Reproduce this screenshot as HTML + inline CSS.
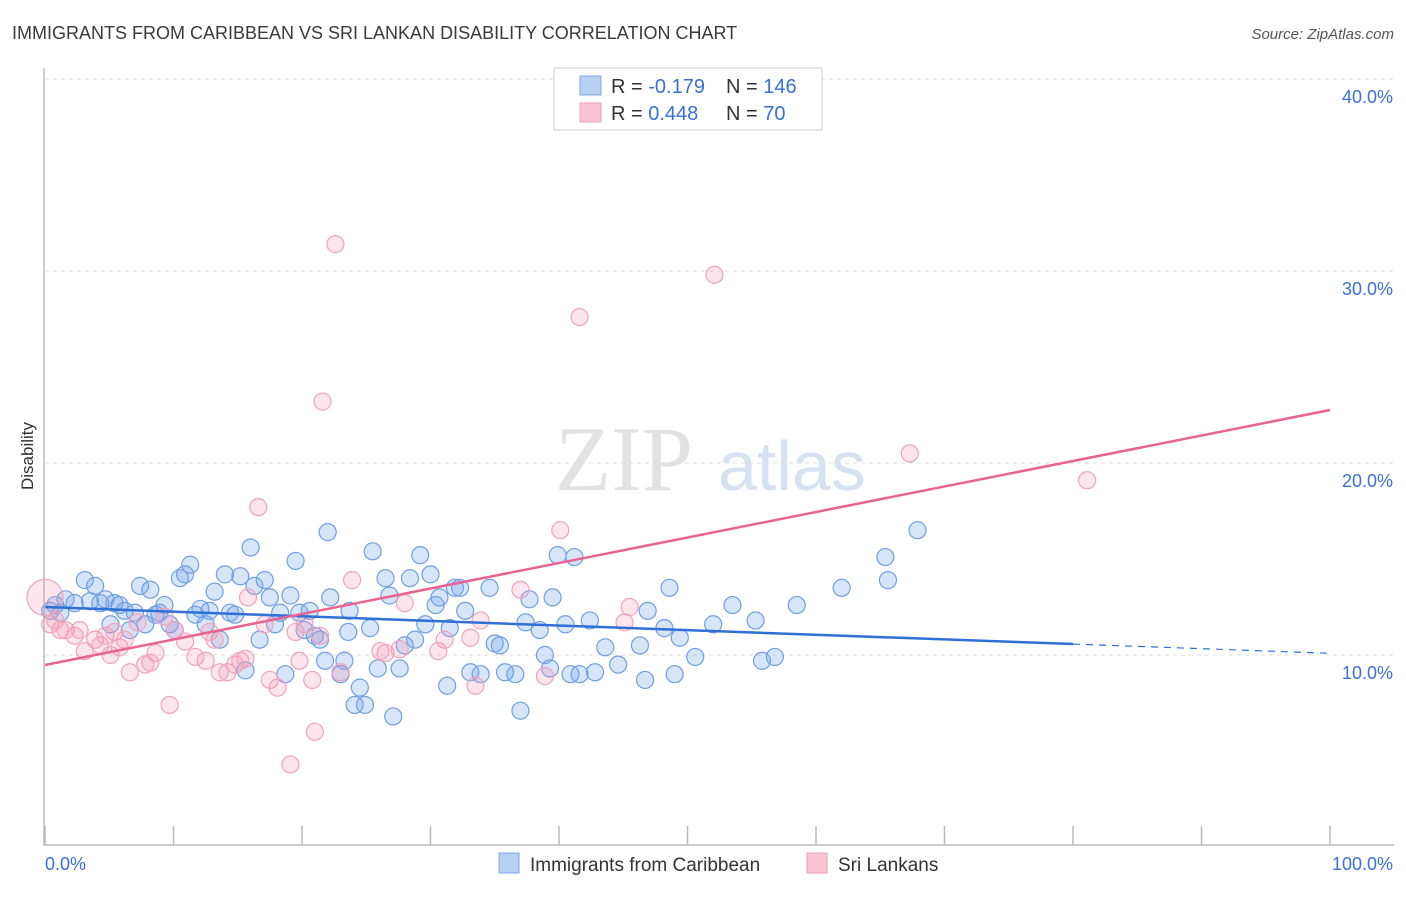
<!DOCTYPE html>
<html><head><meta charset="utf-8"><style>
html,body{margin:0;padding:0;background:#fff;}
body{width:1406px;height:892px;overflow:hidden;font-family:"Liberation Sans",sans-serif;}
</style></head><body>
<svg id="chart" width="1406" height="892" xmlns="http://www.w3.org/2000/svg" font-family="Liberation Sans, sans-serif">
<text x="12" y="39" font-size="18" fill="#3a3a3a">IMMIGRANTS FROM CARIBBEAN VS SRI LANKAN DISABILITY CORRELATION CHART</text>
<text x="1394" y="39" font-size="15" fill="#555" text-anchor="end" font-style="italic">Source: ZipAtlas.com</text>
<text x="555" y="490" font-size="92" fill="#e2e2e2" font-family="Liberation Serif, serif">ZIP</text>
<text x="718" y="490" font-size="70" fill="#d6e2f2">atlas</text>
<text transform="translate(33,456) rotate(-90)" font-size="17" fill="#333" text-anchor="middle">Disability</text>
<g id="grid"></g><g id="axes"></g><g id="pts"></g><g id="trends"></g>
<g>
<rect x="554" y="68" width="268" height="62" fill="#fff" stroke="#ccc"/>
<rect x="580" y="76" width="21" height="19" fill="#b8d1f3" stroke="#7fa8e6"/>
<rect x="580" y="103" width="21" height="19" fill="#f9c5d5" stroke="#ee9fb8"/>
<text x="611" y="93" font-size="20" fill="#333">R = <tspan fill="#3a6fd8">-0.179</tspan><tspan x="726">N = </tspan><tspan fill="#3a6fd8">146</tspan></text>
<text x="611" y="120" font-size="20" fill="#333">R = <tspan fill="#3a6fd8"> 0.448</tspan><tspan x="726">N = </tspan><tspan fill="#3a6fd8">  70</tspan></text>
</g>
<g>
<rect x="499" y="853" width="20" height="20" fill="#b8d1f3" stroke="#7fa8e6"/>
<text x="530" y="871" font-size="19" fill="#333">Immigrants from Caribbean</text>
<rect x="807" y="853" width="20" height="20" fill="#f9c5d5" stroke="#ee9fb8"/>
<text x="838" y="871" font-size="19" fill="#333">Sri Lankans</text>
</g>
</svg>
<script>
const xTicks=[0,10,20,30,40,50,60,70,80,90,100];
const yTicks=[10,20,30,40];
const blueX=[0.4,0.8,1.2,1.6,2.3,3.1,3.5,3.9,4.3,4.7,5.1,5.4,5.8,6.2,6.6,7.0,7.4,7.8,8.2,8.6,8.9,9.3,9.7,10.1,10.5,10.9,11.3,11.7,12.1,12.5,12.8,13.2,13.6,14.0,14.4,14.8,15.2,15.6,16.0,16.3,16.7,17.1,17.5,17.9,18.3,18.7,19.1,19.5,19.8,20.2,20.6,21.0,21.4,21.8,22.0,22.2,23.0,23.3,23.6,23.7,24.1,24.5,24.9,25.3,25.5,25.9,26.5,26.8,27.1,27.6,28.0,28.4,28.8,29.2,29.6,30.0,30.4,30.7,31.3,31.5,31.9,32.3,32.7,33.1,33.9,34.6,35.0,35.4,35.8,36.6,37.0,37.4,37.7,38.5,38.9,39.3,39.5,39.9,40.5,40.9,41.2,41.6,42.4,42.8,43.6,44.6,46.3,46.7,46.9,48.2,48.6,49.0,49.4,50.6,52.0,53.5,55.3,55.8,56.8,58.5,62.0,65.4,65.6,67.9];
const blueY=[12.3,12.6,12.2,12.9,12.7,13.9,12.8,13.6,12.7,12.9,11.6,12.7,12.6,12.3,11.3,12.2,13.6,11.6,13.4,12.1,12.2,12.6,11.6,11.3,14.0,14.2,14.7,12.1,12.4,11.6,12.3,13.3,10.8,14.2,12.2,12.1,14.1,9.2,15.6,13.6,10.8,13.9,13.0,11.6,12.2,9.0,13.1,14.9,12.2,11.3,12.3,11.0,10.8,9.7,16.4,13.0,9.0,9.7,11.2,12.3,7.4,8.3,7.4,11.4,15.4,9.3,14.0,13.1,6.8,9.3,10.5,14.0,10.8,15.2,11.6,14.2,12.6,13.0,8.4,11.4,13.5,13.5,12.3,9.1,9.0,13.5,10.6,10.5,9.1,9.0,7.1,11.7,12.9,11.3,10.0,9.3,13.0,15.2,11.6,9.0,15.1,9.0,11.8,9.1,10.4,9.5,10.5,8.7,12.3,11.4,13.5,9.0,10.9,9.9,11.6,12.6,11.8,9.7,9.9,12.6,13.5,15.1,13.9,16.5];
const pinkX=[0.4,0.8,1.2,1.6,2.3,2.7,3.1,3.9,4.3,4.7,5.1,5.4,5.8,6.2,6.6,7.2,7.8,8.2,8.6,9.3,9.7,10.1,10.9,11.7,12.5,12.8,13.2,13.6,14.2,14.8,15.2,15.6,15.8,16.6,17.1,17.5,18.1,19.1,19.5,19.8,20.2,20.8,21.0,21.4,21.6,22.6,23.0,23.9,26.1,26.5,27.6,28.0,30.6,31.1,33.1,33.5,33.9,37.0,38.9,40.1,41.6,45.1,45.5,52.1,67.3,81.1];
const pinkY=[11.6,11.8,11.3,11.3,11.0,11.3,10.2,10.8,10.5,11.0,10.0,11.2,10.4,10.8,9.1,11.7,9.5,9.6,10.1,12.0,7.4,11.3,10.7,9.9,9.7,11.2,10.8,9.1,9.1,9.5,9.7,9.8,13.0,17.7,11.6,8.7,8.3,4.3,11.2,9.7,11.6,8.7,6.0,11.0,23.2,31.4,9.1,13.9,10.2,10.1,10.3,12.7,10.2,10.8,10.9,8.4,11.8,13.4,8.9,16.5,27.6,11.7,12.5,29.8,20.5,19.1];
const bigPinkX=[0.0], bigPinkY=[13.0];
const blueTrend=[12.5,10.57], blueTrendEnd=[80,100], pinkTrend=[9.48,22.76];
const X=v=>45+v*12.85, Y=v=>847-v*19.2;
const NS='http://www.w3.org/2000/svg';
function mk(tag,parent,attrs){const e=document.createElementNS(NS,tag);for(const k in attrs)e.setAttribute(k,attrs[k]);document.getElementById(parent).appendChild(e);return e;}
yTicks.forEach(t=>{
 const l=mk('line','grid',{x1:45,x2:1394,y1:Y(t),y2:Y(t),stroke:'#ddd','stroke-dasharray':'4,4'});
 
 
 const tx=mk('text','grid',{x:1393,y:Y(t)+24,'font-size':18,fill:'#3a6fd8','text-anchor':'end'});
 tx.textContent=t.toFixed(1)+'%';
 
 
});
const ax=mk('path','axes',{d:'M44,68 V845 H1394',fill:'none',stroke:'#bbb','stroke-width':1.5});


xTicks.forEach(t=>{
 const l=mk('line','axes',{x1:X(t),x2:X(t),y1:826,y2:845,stroke:'#bbb','stroke-width':1.5});
 
 
});
[[0,'0.0%','start',45],[100,'100.0%','end',1393]].forEach(a=>{
 const tx=mk('text','axes',{x:a[3],y:870,'font-size':18,fill:'#3a6fd8','text-anchor':a[2]});
 tx.textContent=a[1];
 
 
});
blueX.forEach((v,i)=>{
 const c=mk('circle','pts',{cx:X(v),cy:Y(blueY[i]),r:8.5,fill:'rgba(110,160,235,0.28)',stroke:'#6f9fe3','stroke-width':1.2});
 
 
});
pinkX.forEach((v,i)=>{
 const c=mk('circle','pts',{cx:X(v),cy:Y(pinkY[i]),r:8.5,fill:'rgba(245,150,180,0.25)',stroke:'#f0a3bb','stroke-width':1.2});
 
 
});
bigPinkX.forEach((v,i)=>{
 const c=mk('circle','pts',{cx:X(v),cy:Y(bigPinkY[i]),r:18,fill:'rgba(245,150,180,0.25)',stroke:'#f0a3bb','stroke-width':1.2});
 
 
});
const slopeB=(blueTrend[1]-blueTrend[0])/blueTrendEnd[0];
const bl=mk('line','trends',{x1:X(0),y1:Y(blueTrend[0]),x2:X(blueTrendEnd[0]),y2:Y(blueTrend[1]),stroke:'#2f6fd6','stroke-width':2.5});


const bd=mk('line','trends',{x1:X(blueTrendEnd[0]),y1:Y(blueTrend[1]),x2:X(blueTrendEnd[1]),y2:Y(blueTrend[0]+slopeB*blueTrendEnd[1]),stroke:'#2f6fd6','stroke-width':1.2,'stroke-dasharray':'7,6'});


const pl=mk('line','trends',{x1:X(0),y1:Y(pinkTrend[0]),x2:X(100),y2:Y(pinkTrend[1]),stroke:'#e8638f','stroke-width':2.5});


</script>
</body></html>
